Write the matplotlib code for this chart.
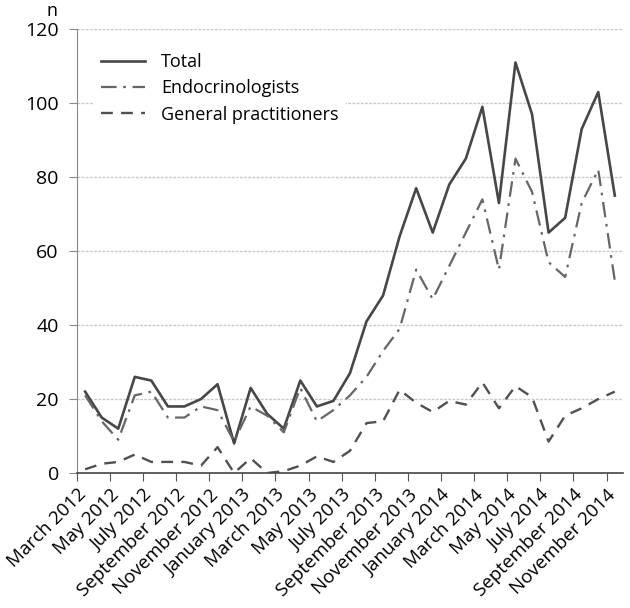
import matplotlib
matplotlib.use("Agg")
import matplotlib.pyplot as plt

plt.rcParams['font.family'] = ['Open Sans', 'DejaVu Sans']

months = ["March 2012", "April 2012", "May 2012", "June 2012", "July 2012", "August 2012",
          "September 2012", "October 2012", "November 2012", "December 2012",
          "January 2013", "February 2013", "March 2013", "April 2013", "May 2013",
          "June 2013", "July 2013", "August 2013", "September 2013", "October 2013",
          "November 2013", "December 2013", "January 2014", "February 2014",
          "March 2014", "April 2014", "May 2014", "June 2014", "July 2014",
          "August 2014", "September 2014", "October 2014", "November 2014"]

total = [22, 15, 12, 26, 25, 18, 18, 20, 24, 8, 23, 16, 12, 25, 18, 19.5, 27,
         41, 48, 64, 77, 65, 78, 85, 99, 73, 111, 97, 65, 69, 93, 103, 75]
endo = [21, 14, 9, 21, 22, 15, 15, 18, 17, 8.5, 18, 15.5, 11, 23, 14, 17, 21,
        26, 33, 39, 55, 47, 56, 65, 74, 55, 85, 76, 57, 53, 73, 82, 52]
gp = [1, 2.5, 3, 5, 3, 3, 3, 2, 7, 0, 4, 0, 0.5, 2, 4.5, 3, 6,
      13.5, 14, 22.5, 19, 16.5, 19.5, 18.5, 24.5, 17.5, 23.5, 20.5, 8.5, 15.5, 17.5, 20, 22]

tick_labels = months[::2]

fig = plt.figure(figsize=(6.3, 6.08), dpi=100)
ax = fig.add_axes([0.122, 0.222, 0.867, 0.73])

x = list(range(len(months)))
ax.plot(x, total, color='#474747', lw=1.9, label='Total')
ax.plot(x, endo, color='#666666', lw=1.6, dashes=(7, 3, 1.2, 3), label='Endocrinologists')
ax.plot(x, gp, color='#505050', lw=1.7, dashes=(5, 3.5), label='General practitioners')

ax.set_xlim(-0.5, 32.5)
ax.set_ylim(0, 120)
ax.set_yticks([0, 20, 40, 60, 80, 100, 120])
ax.yaxis.grid(True, color='#c8c8c8', lw=1.0, ls=(0, (2, 1)))
ax.set_axisbelow(True)

ticks = [i - 0.5 for i in range(0, len(months), 2)]
ax.set_xticks(ticks)
ax.set_xticklabels(tick_labels, rotation=45, ha='right', rotation_mode='anchor', fontsize=13.5)
ax.tick_params(axis='x', length=6, width=0.8, color='#555555', pad=3)
ax.tick_params(axis='y', length=6, width=0.8, color='#888888', labelsize=14, pad=7)

for s in ['top', 'right']:
    ax.spines[s].set_visible(False)
ax.spines['left'].set_color('#888888')
ax.spines['bottom'].set_color('#444444')
ax.spines['bottom'].set_linewidth(1.2)

ax.text(-0.045, 1.03, 'n', transform=ax.transAxes, fontsize=13, ha='center', va='baseline')

leg = ax.legend(loc='upper left', bbox_to_anchor=(0.025, 0.97), frameon=True, fontsize=13,
                handlelength=2.4, borderaxespad=0.2, labelspacing=0.45, handletextpad=0.9)
leg.get_frame().set_edgecolor('none')
leg.get_frame().set_facecolor('white')
leg.get_frame().set_alpha(1)

fig.savefig('out.png', dpi=100)
